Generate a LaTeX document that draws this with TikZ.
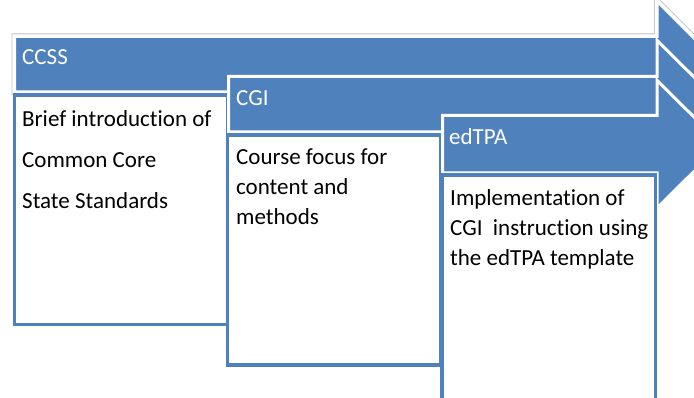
\documentclass[tikz,border=0pt]{standalone}
\usepackage{fontspec}
\setmainfont{Carlito}[Ligatures=NoCommon]
\usepackage{xcolor}
\usepackage{tikz}
\definecolor{accent}{HTML}{4F81BD}
\definecolor{frame}{HTML}{C0C0C0}
\tikzstyle{banner} = [fill=accent, draw=white, line width=3pt, line join=miter]
\tikzstyle{halo} = [draw=frame, line width=0.8pt, double=white, double distance=4.4pt]
\tikzstyle{panel} = [fill=white, draw=accent, line width=3.5pt]
\tikzstyle{title} = [anchor=base west, inner sep=0pt, text=white, font=\fontsize{23}{28}\selectfont]
\tikzstyle{body} = [anchor=north west, inner sep=0pt, align=left, font=\fontsize{23}{30}\selectfont]

\begin{document}
\begin{tikzpicture}[x=1pt, y=-1pt]
\useasboundingbox (0,0) rectangle (694,398);
\clip (0,0) rectangle (694,398);

% CCSS stage
\draw [halo] (14.5,36.5) -- (657,36.5) -- (657,1) -- (721,65) -- (657,129) -- (657,92) -- (14.5,92) -- cycle;
\draw [banner] (14.5,36.5) -- (657,36.5) -- (657,1) -- (721,65) -- (657,129) -- (657,92) -- (14.5,92) -- cycle;
\draw [panel] (14.5,95) rectangle (228,324.5);
\node (ccss) [title] at (22,65) {CCSS};
\node (ccsstext) [body, font=\fontsize{23}{41}\selectfont] at (22,110) {Brief introduction of\\Common Core\\State Standards};

% CGI stage
\draw [banner] (228.5,76.5) -- (657,76.5) -- (657,40.25) -- (721.25,104.25) -- (657,168.25) -- (657,132) -- (228.5,132) -- cycle;
\draw [panel] (227.5,135) rectangle (441,365);
\node (cgi) [title] at (236,106) {CGI};
\node (cgitext) [body] at (236,149) {Course focus for\\content and\\methods};

% edTPA stage
\draw [banner] (442.5,115.5) -- (657,115.5) -- (657,80.25) -- (721.25,144.25) -- (657,208.25) -- (657,173) -- (442.5,173) -- cycle;
\draw [panel] (442,175) rectangle (655.5,420);
\node (edtpa) [title] at (449,145) {edTPA};
\node (edtpatext) [body] at (450,189) {Implementation of\\CGI~~instruction using\\the edTPA template};

\end{tikzpicture}
\end{document}
